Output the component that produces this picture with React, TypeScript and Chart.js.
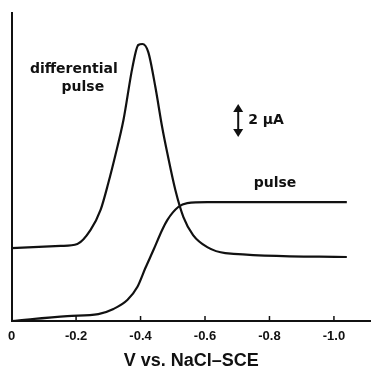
import React, { useEffect, useRef } from "react";
import { Chart, registerables } from "chart.js";

Chart.register(...registerables);

// Potential (V vs. NaCl-SCE) and current (μA)
const pulseV = [0, -0.173, -0.269, -0.316, -0.359, -0.39, -0.415, -0.44, -0.467, -0.483, -0.517, -0.545, -0.607, -0.74, -1.04];
const pulseI = [0, 0.3, 0.42, 0.73, 1.27, 2.06, 3.21, 4.3, 5.52, 6.12, 6.91, 7.15, 7.21, 7.21, 7.21];

const diffV = [0, -0.152, -0.204, -0.245, -0.276, -0.3, -0.322, -0.347, -0.375, -0.393, -0.406, -0.424, -0.446, -0.467, -0.483, -0.508, -0.533, -0.563, -0.607, -0.663, -1.04];
const diffI = [4.42, 4.55, 4.67, 5.52, 6.73, 8.36, 10.06, 12.18, 15.39, 16.73, 16.79, 16.3, 14.18, 11.76, 10.18, 7.94, 6.3, 5.21, 4.48, 4.12, 3.88];

const xTickValues = [0, -0.2, -0.4, -0.6, -0.8, -1.0];
const xTitle = "V vs. NaCl\u2013SCE";
const scaleBar = { x: -0.703, from: 11.15, to: 13.15, label: "2 \u03bcA", labelX: -0.734 };
const labels = [
  { text: "differential", x: -0.193, y: 15.27 },
  { text: "pulse", x: -0.221, y: 14.18 },
  { text: "pulse", x: -0.817, y: 8.36 },
];

const annotPlugin = {
  id: "annot",
  afterDraw(chart: any) {
    const { ctx, scales } = chart;
    const x = scales.x, y = scales.y;
    ctx.save();
    ctx.strokeStyle = "#111";
    ctx.fillStyle = "#111";
    // inward tick marks
    ctx.lineWidth = 1.5;
    for (const v of xTickValues) {
      if (v === 0) continue;
      const px = x.getPixelForValue(v);
      ctx.beginPath();
      ctx.moveTo(px, y.bottom);
      ctx.lineTo(px, y.bottom - 5);
      ctx.stroke();
    }
    // text labels
    ctx.font = "bold 14px 'DejaVu Sans'";
    ctx.textAlign = "center";
    ctx.textBaseline = "middle";
    for (const l of labels) {
      ctx.fillText(l.text, x.getPixelForValue(l.x), y.getPixelForValue(l.y));
    }
    // scale bar
    const ax = x.getPixelForValue(scaleBar.x);
    const y1 = y.getPixelForValue(scaleBar.to);
    const y2 = y.getPixelForValue(scaleBar.from);
    ctx.lineWidth = 2;
    ctx.beginPath();
    ctx.moveTo(ax, y1 + 4);
    ctx.lineTo(ax, y2 - 4);
    ctx.stroke();
    ctx.beginPath();
    ctx.moveTo(ax, y1);
    ctx.lineTo(ax - 5, y1 + 8);
    ctx.lineTo(ax + 5, y1 + 8);
    ctx.closePath();
    ctx.fill();
    ctx.beginPath();
    ctx.moveTo(ax, y2);
    ctx.lineTo(ax - 5, y2 - 8);
    ctx.lineTo(ax + 5, y2 - 8);
    ctx.closePath();
    ctx.fill();
    ctx.textAlign = "left";
    ctx.fillText(scaleBar.label, x.getPixelForValue(scaleBar.labelX), (y1 + y2) / 2);
    ctx.restore();
  },
};

export default function App() {
  const ref = useRef<HTMLCanvasElement>(null);
  useEffect(() => {
    if (!ref.current) return;
    const toPts = (xs: number[], ys: number[]) => xs.map((v, i) => ({ x: v, y: ys[i] }));
    const chart = new Chart(ref.current, {
      type: "line",
      data: {
        datasets: [
          {
            label: "differential pulse",
            data: toPts(diffV, diffI),
            borderColor: "#111",
            borderWidth: 2.2,
            pointRadius: 0,
            cubicInterpolationMode: "monotone",
            fill: false,
          },
          {
            label: "pulse",
            data: toPts(pulseV, pulseI),
            borderColor: "#111",
            borderWidth: 2.2,
            pointRadius: 0,
            cubicInterpolationMode: "monotone",
            fill: false,
          },
        ],
      },
      options: {
        responsive: false,
        animation: false,
        layout: { padding: { left: 11, top: 13, right: 0, bottom: 0 } },
        plugins: { legend: { display: false }, tooltip: { enabled: false } },
        scales: {
          x: {
            type: "linear",
            reverse: true,
            min: -1.115,
            max: 0,
            grid: { display: false, drawTicks: false },
            border: { display: true, color: "#111", width: 2 },
            afterBuildTicks: (scale: any) => {
              scale.ticks = xTickValues.map((v) => ({ value: v }));
            },
            afterFit: (scale: any) => {
              scale.height = 49;
            },
            ticks: {
              color: "#111",
              padding: 8,
              maxRotation: 0,
              autoSkip: false,
              font: { family: "'Liberation Sans'", size: 13, weight: "bold" },
              callback: (v: any) => (Number(v) === 0 ? "0" : Number(v).toFixed(1)),
            },
            title: {
              display: true,
              text: xTitle,
              color: "#111",
              font: { family: "'Liberation Sans'", size: 18, weight: "bold", lineHeight: 1 },
              padding: { top: 0, bottom: 0 },
            },
          },
          y: {
            type: "linear",
            min: 0,
            max: 18.67,
            grid: { display: false, drawTicks: false },
            border: { display: true, color: "#111", width: 2 },
            ticks: { display: false },
          },
        },
      },
      plugins: [annotPlugin],
    });
    return () => chart.destroy();
  }, []);
  return (
    <div style={{ position: "fixed", left: 0, top: 0, width: 371, height: 370, background: "#fff" }}>
      <canvas ref={ref} width={371} height={370} />
    </div>
  );
}
